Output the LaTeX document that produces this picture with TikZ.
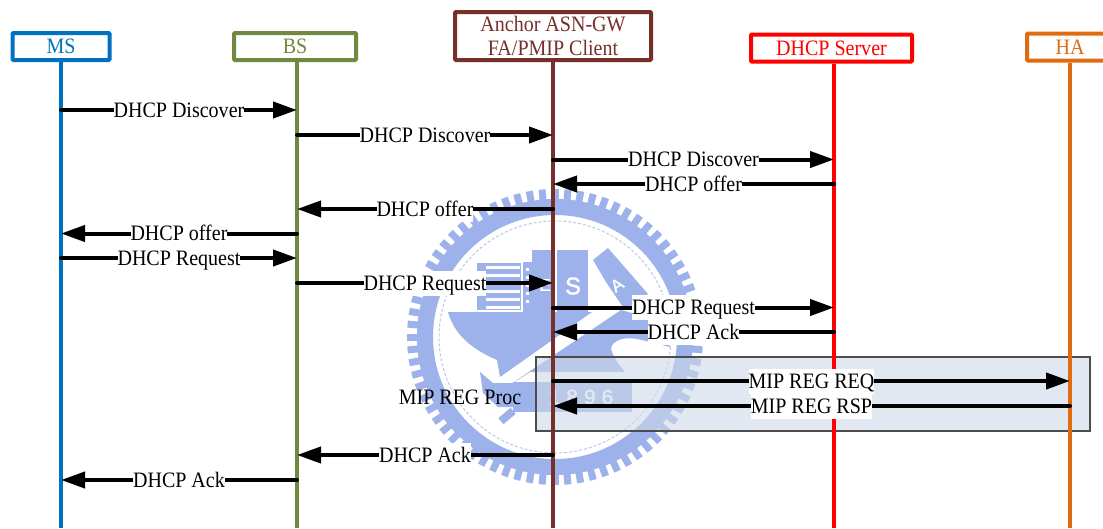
\documentclass[tikz,border=0pt]{standalone}
\usepackage{fontspec}
\setmainfont{Liberation Serif}[FakeStretch=0.91]
\newfontfamily\logofont{Liberation Sans}[FakeBold=1.5]
\usetikzlibrary{arrows.meta}
\definecolor{cms}{HTML}{0070C0}
\definecolor{cbs}{HTML}{71893F}
\definecolor{cgw}{HTML}{772F2A}
\definecolor{csrv}{HTML}{FF0000}
\definecolor{cha}{HTML}{E06C12}
\definecolor{clogo}{HTML}{9DB1EA}
\definecolor{cellbg}{HTML}{D0DAE8}
\tikzset{
  x=1pt,y=-1pt,
  headbox/.style={draw,line width=4pt,fill=white,rounded corners=1pt,inner sep=0pt,align=center,
    font=\fontsize{22}{24}\selectfont},
  lifeline/.style={line width=4pt},
  msgarrow/.style={line width=4pt,line cap=round,-{Triangle[length=24pt,width=16pt]}},
  msglabel/.style={midway,fill=white,inner xsep=0pt,inner ysep=3.5pt,text height=16pt,text depth=2pt,
    text=black,font=\fontsize{22}{24}\selectfont},
  procbox/.style={draw=black!70,line width=1.4pt,fill=cellbg,fill opacity=.6,inner sep=0pt},
  proclabel/.style={inner sep=0pt,font=\fontsize{22}{24}\selectfont},
  logotext/.style={text=white,inner sep=0pt,font=\logofont\fontsize{17}{17}\selectfont},
}
\begin{document}
\begin{tikzpicture}
\useasboundingbox (0,0) rectangle (1103,528);
\clip (0,0) rectangle (1103,528);
\fill[white] (0,0) rectangle (1103,528);
% watermark
\begin{scope}[shift={(555,337)}]
  \draw[clogo,line width=16pt] (0,0) circle (130);
  \foreach \a in {0,5,...,355} \draw[clogo,line width=7pt] (\a:136) -- (\a:148);
  \draw[clogo!70,line width=1pt,densely dashed] (0,0) circle (116);
\end{scope}
\fill[clogo] (477,263) rectangle (521,310);
\foreach \yy in {266,274,282,290,298,306} \fill[white] (486,\yy) rectangle (520,\yy+3);
\fill[clogo] (523,262) rectangle (532,312);
\foreach \yy in {268,276,284,292,300} \fill[white] (526,\yy) rectangle (529,\yy+3);
\fill[clogo] (532,250) rectangle (553,312);
\fill[clogo] (557,250) rectangle (588,312);
\fill[clogo] (593,260) -- (608,248) -- (648,294) -- (625,310) -- (606,282) -- cycle;
\fill[clogo] (448,312) -- (592,312) -- (500,377) -- (497,360) .. controls (478,352) and (455,338) .. cycle;
\fill[clogo] (505,388) -- (621,310) -- (650,318) .. controls (660,328) and (668,338) .. (670,347)
  -- (642,340) .. controls (618,334) and (608,345) .. (612,352) .. controls (616,362) and (622,368) .. (625,372)
  -- (530,372) -- (513,383) -- cycle;
\fill[clogo] (480,372) -- (493,383) -- (513,383) -- (513,407) -- (498,407) -- (483,393) -- cycle;
\fill[clogo,rotate around={40:(507,416)}] (499,412) rectangle (515,420);
\fill[clogo] (513,382) rectangle (632,412);
\node[logotext] (logoE) at (545,285) {E};
\node[logotext,font=\logofont\fontsize{24}{24}\selectfont] (logoS) at (573,286) {S};
\node[logotext,rotate=35] (logoA) at (617,285) {A};
\node[logotext,font=\logofont\fontsize{21}{21}\selectfont] (logoY) at (581,397) {1\hspace{6pt}8\hspace{6pt}9\hspace{6pt}6};
% process box
\node[procbox,minimum width=554pt,minimum height=74pt] (proc) at (813,394) {};
\node[proclabel] (proctext) at (460,397) {MIP REG Proc};
% lifeline positions
\coordinate (xms) at (61,0);
\coordinate (xbs) at (297,0);
\coordinate (xgw) at (553,0);
\coordinate (xsv) at (834,0);
\coordinate (xha) at (1070,0);
\coordinate (bot) at (0,528);
% heads
\node[headbox,draw=cms,text=cms,minimum width=97pt,minimum height=27pt] (ms) at (61,46.5) {MS};
\node[headbox,draw=cbs,text=cbs,minimum width=122pt,minimum height=27pt] (bs) at (295,46.5) {BS};
\node[headbox,draw=cgw,text=cgw,minimum width=196pt,minimum height=48pt] (gw) at (553,36) {Anchor ASN-GW\\FA/PMIP Client};
\node[headbox,draw=csrv,text=csrv,minimum width=161pt,minimum height=27pt] (sv) at (831.5,48) {DHCP Server};
\node[headbox,draw=cha,text=cha,minimum width=86pt,minimum height=27pt] (ha) at (1070,47) {HA};
% lifelines
\draw[lifeline,cms] (xms|-ms.south) -- (xms|-bot);
\draw[lifeline,cbs] (xbs|-bs.south) -- (xbs|-bot);
\draw[lifeline,cgw] (xgw|-gw.south) -- (xgw|-bot);
\draw[lifeline,csrv] (xsv|-sv.south) -- (xsv|-bot);
\draw[lifeline,cha] (xha|-ha.south) -- (xha|-bot);
% message rows
\coordinate (m1) at (0,110);
\coordinate (m2) at (0,135);
\coordinate (m3) at (0,159.5);
\coordinate (m4) at (0,184);
\coordinate (m5) at (0,209);
\coordinate (m6) at (0,233.5);
\coordinate (m7) at (0,258);
\coordinate (m8) at (0,283);
\coordinate (m9) at (0,307.5);
\coordinate (m10) at (0,332);
\coordinate (m11) at (0,381);
\coordinate (m12) at (0,406);
\coordinate (m13) at (0,455);
\coordinate (m14) at (0,480);
\draw[msgarrow] (xms|-m1) -- (xbs|-m1) node[msglabel] {DHCP Discover};
\draw[msgarrow] (xbs|-m2) -- (xgw|-m2) node[msglabel] {DHCP Discover};
\draw[msgarrow] (xgw|-m3) -- (xsv|-m3) node[msglabel] {DHCP Discover};
\draw[msgarrow] (xsv|-m4) -- (xgw|-m4) node[msglabel] {DHCP offer};
\draw[msgarrow] (xgw|-m5) -- (xbs|-m5) node[msglabel] {DHCP offer};
\draw[msgarrow] (xbs|-m6) -- (xms|-m6) node[msglabel] {DHCP offer};
\draw[msgarrow] (xms|-m7) -- (xbs|-m7) node[msglabel] {DHCP Request};
\draw[msgarrow] (xbs|-m8) -- (xgw|-m8) node[msglabel] {DHCP Request};
\draw[msgarrow] (xgw|-m9) -- (xsv|-m9) node[msglabel] {DHCP Request};
\draw[msgarrow] (xsv|-m10) -- (xgw|-m10) node[msglabel] {DHCP Ack};
\draw[msgarrow] (xgw|-m11) -- (xha|-m11) node[msglabel] {MIP REG REQ};
\draw[msgarrow] (xha|-m12) -- (xgw|-m12) node[msglabel] {MIP REG RSP};
\draw[msgarrow] (xgw|-m13) -- (xbs|-m13) node[msglabel] {DHCP Ack};
\draw[msgarrow] (xbs|-m14) -- (xms|-m14) node[msglabel] {DHCP Ack};
\end{tikzpicture}
\end{document}
